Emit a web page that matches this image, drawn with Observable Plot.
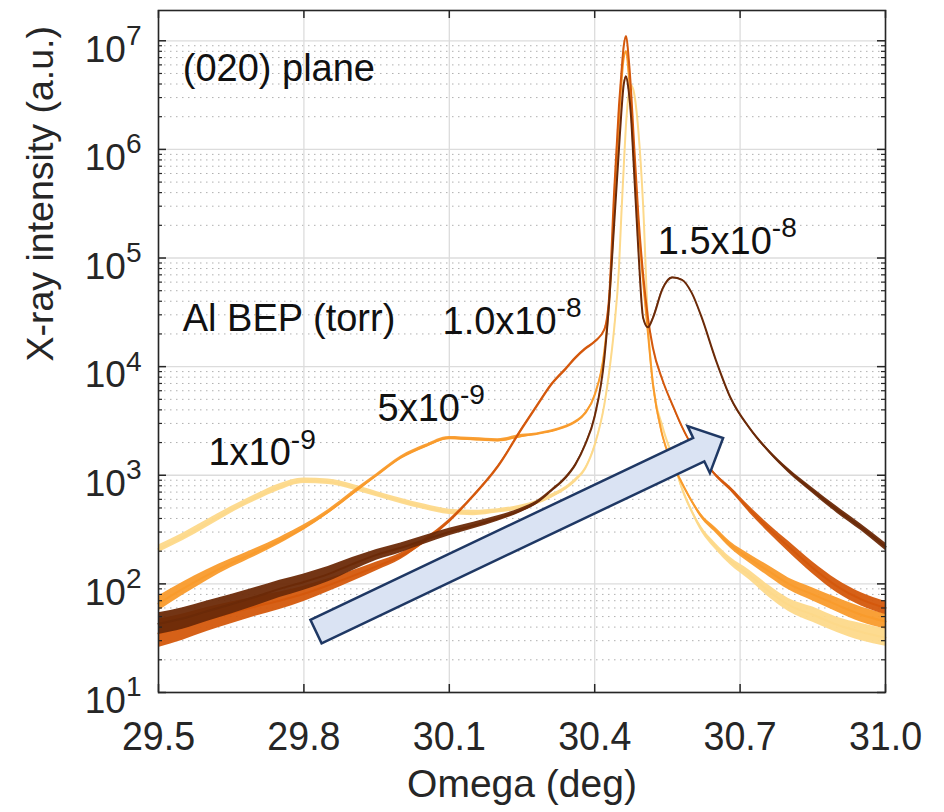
<!DOCTYPE html>
<html>
<head>
<meta charset="utf-8">
<script src="https://cdn.jsdelivr.net/npm/d3@7"></script>
<script src="https://cdn.jsdelivr.net/npm/@observablehq/plot@0.6"></script>
<style>
  body { margin: 0; background: #fff; }
  #chart { width: 944px; height: 812px; }
</style>
</head>
<body>
<div id="chart"></div>
<script>
// ---------------- data ----------------
const omega = [29.50, 29.55, 29.60, 29.65, 29.70, 29.75, 29.80, 29.85, 29.90, 29.95,
  30.00, 30.05, 30.10, 30.15, 30.20, 30.25, 30.28, 30.31, 30.34, 30.36,
  30.38, 30.40, 30.42, 30.43, 30.44, 30.45, 30.455, 30.46, 30.465, 30.47,
  30.475, 30.48, 30.49, 30.50, 30.51, 30.52, 30.54, 30.56, 30.58, 30.60,
  30.62, 30.65, 30.68, 30.72, 30.76, 30.80, 30.85, 30.90, 30.95, 31.00];

const bep1e9 = [210, 270, 360, 480, 620, 780, 890, 870, 780, 670,
  580, 510, 460, 450, 470, 510, 560, 640, 760, 900,
  1150, 1900, 4500, 9000, 22000, 80000, 2.5e5, 7e5, 1.8e6, 3.2e6,
  3.9e6, 3.5e6, 1.5e6, 3e5, 2.5e4, 7000, 2800, 1500, 760, 470,
  320, 220, 162, 120, 85, 64, 52, 42, 36, 32];

const bep5e9 = [66, 90, 120, 155, 195, 250, 330, 460, 680, 1000,
  1450, 1850, 2200, 2150, 2100, 2300, 2400, 2550, 2800, 3100,
  3700, 5500, 14000, 40000, 2.5e5, 1.8e6, 4e6, 7e6, 8e6, 5e6,
  2.5e6, 1e6, 2e5, 6e4, 2e4, 7000, 2300, 1300, 850, 580,
  420, 310, 228, 170, 130, 100, 80, 64, 52, 45];

const bep1e8 = [35, 40, 47, 54, 62, 70, 81, 97, 118, 145,
  180, 250, 380, 650, 1200, 2700, 4300, 6800, 9500, 12000,
  14500, 17000, 22000, 45000, 4e5, 2.5e6, 5e6, 9e6, 1.1e7, 7e6,
  3.5e6, 1.4e6, 2.5e5, 7e4, 2.8e4, 1.5e4, 7500, 4500, 2800, 1900,
  1450, 1000, 750, 480, 320, 220, 140, 95, 72, 60];

const bep15e9 = [43, 48, 56, 65, 76, 90, 104, 123, 152, 185,
  215, 255, 300, 345, 400, 480, 560, 720, 950, 1250,
  1900, 3500, 12000, 40000, 2e5, 1e6, 2.2e6, 4e6, 4.7e6, 3.5e6,
  2e6, 8e5, 1.2e5, 2.8e4, 2.3e4, 2.8e4, 5.2e4, 6.6e4, 6.3e4, 4.8e4,
  2.9e4, 1.15e4, 5200, 2700, 1650, 1100, 720, 480, 330, 220];

// half-width of the noise band around each trace (decades)
const noise1e9 = [0.035, 0.035, 0.035, 0.03, 0.03, 0.03, 0.025, 0.025, 0.025, 0.025,
  0.025, 0.025, 0.025, 0.025, 0.02, 0.02, 0.02, 0.02, 0.015, 0.015,
  0.01, 0.01, 0.005, 0.005, 0.005, 0.005, 0.005, 0.005, 0.005, 0.005,
  0.005, 0.005, 0.005, 0.005, 0.005, 0.01, 0.015, 0.02, 0.02, 0.02,
  0.025, 0.03, 0.035, 0.045, 0.055, 0.06, 0.07, 0.07, 0.08, 0.08];
const noise5e9 = [0.07, 0.06, 0.05, 0.04, 0.035, 0.03, 0.025, 0.02, 0.02, 0.015,
  0.015, 0.015, 0.015, 0.015, 0.015, 0.015, 0.01, 0.01, 0.01, 0.01,
  0.01, 0.005, 0.005, 0.005, 0.005, 0.005, 0.005, 0.005, 0.005, 0.005,
  0.005, 0.005, 0.005, 0.005, 0.005, 0.005, 0.01, 0.01, 0.015, 0.015,
  0.02, 0.025, 0.03, 0.04, 0.05, 0.055, 0.06, 0.065, 0.07, 0.07];
const noise1e8 = [0.13, 0.12, 0.11, 0.10, 0.09, 0.08, 0.07, 0.06, 0.05, 0.04,
  0.03, 0.02, 0.015, 0.01, 0.01, 0.01, 0.01, 0.01, 0.01, 0.01,
  0.01, 0.005, 0.005, 0.005, 0.005, 0.005, 0.005, 0.005, 0.005, 0.005,
  0.005, 0.005, 0.005, 0.005, 0.005, 0.005, 0.005, 0.01, 0.01, 0.01,
  0.01, 0.015, 0.02, 0.03, 0.04, 0.05, 0.055, 0.06, 0.06, 0.06];
const noise15e9 = [0.10, 0.10, 0.095, 0.09, 0.085, 0.08, 0.075, 0.07, 0.06, 0.05,
  0.045, 0.04, 0.035, 0.03, 0.025, 0.02, 0.015, 0.01, 0.01, 0.01,
  0.005, 0.005, 0.005, 0.005, 0.005, 0.005, 0.005, 0.005, 0.005, 0.005,
  0.005, 0.005, 0.005, 0.005, 0.005, 0.005, 0.005, 0.005, 0.005, 0.005,
  0.005, 0.005, 0.01, 0.01, 0.015, 0.02, 0.025, 0.03, 0.03, 0.035];

const seriesNames = ["1x10^-9", "5x10^-9", "1.0x10^-8", "1.5x10^-8"];
const seriesValues = [bep1e9, bep5e9, bep1e8, bep15e9];
const seriesNoise = [noise1e9, noise5e9, noise1e8, noise15e9];
const seriesColors = ["#fdd98a", "#f99b2c", "#d4580c", "#6b2a08"];

const xTicks = [29.5, 29.8, 30.1, 30.4, 30.7, 31.0];
const xTickLabels = ["29.5", "29.8", "30.1", "30.4", "30.7", "31.0"];
const yDecades = [1e1, 1e2, 1e3, 1e4, 1e5, 1e6, 1e7];
const yTickLabels = ["10^1", "10^2", "10^3", "10^4", "10^5", "10^6", "10^7"];
const yMinor = [];
for (const d of yDecades) for (let m = 2; m <= 9; m++) if (d * m < 1.9e7) yMinor.push(d * m);

const annText = ["(020) plane", "Al BEP (torr)", "1x10^-9", "5x10^-9", "1.0x10^-8", "1.5x10^-8"];
const annOmega = [29.55, 29.55, 29.603, 29.952, 30.086, 30.53];
const annIntensity = [4.3e6, 2.15e4, 1230, 3190, 2.0e4, 1.1e5];

const arrowFrom = [29.826, 36];   // tail centre (omega, intensity)
const arrowTo = [30.666, 2180];   // tip (omega, intensity)

const xTitle = "Omega (deg)";
const yTitle = "X-ray intensity (a.u.)";

// ---------------- tables ----------------
const tables = seriesNames.map((s, k) => omega.map((w, i) => ({
  series: s, omega: w, intensity: seriesValues[k][i],
  lo: seriesValues[k][i] / Math.pow(10, seriesNoise[k][i]),
  hi: seriesValues[k][i] * Math.pow(10, seriesNoise[k][i])
})));
const anns = annText.map((t, i) => ({text: t, omega: annOmega[i], intensity: annIntensity[i]}));

// ---------------- layout ----------------
const W = 944, H = 812;
const mL = 158, mR = 59, mT = 10, mB = 120;
const fw = W - mL - mR, fh = H - mT - mB;
const ink = "#262626";

function arrowMark(index, scales) {
  const x0 = scales.x(arrowFrom[0]), y0 = scales.y(arrowFrom[1]);
  const x1 = scales.x(arrowTo[0]), y1 = scales.y(arrowTo[1]);
  const len = Math.hypot(x1 - x0, y1 - y0);
  const ux = (x1 - x0) / len, uy = (y1 - y0) / len;
  const px = -uy, py = ux;
  const shaft = 13, head = 26, headLen = 27;
  const bx = x1 - ux * headLen, by = y1 - uy * headLen;
  const pts = [
    [x0 + px * shaft, y0 + py * shaft],
    [bx + px * shaft, by + py * shaft],
    [bx + px * head, by + py * head],
    [x1, y1],
    [bx - px * head, by - py * head],
    [bx - px * shaft, by - py * shaft],
    [x0 - px * shaft, y0 - py * shaft]
  ];
  const g = document.createElementNS("http://www.w3.org/2000/svg", "polygon");
  g.setAttribute("points", pts.map(p => p.join(",")).join(" "));
  g.setAttribute("fill", "#dae3f3");
  g.setAttribute("stroke", "#1f3864");
  g.setAttribute("stroke-width", "2.5");
  g.setAttribute("stroke-linejoin", "miter");
  return g;
}

const seriesMarks = tables.flatMap(t => [
  Plot.areaY(t, {x: "omega", y1: "lo", y2: "hi", fill: "series", fillOpacity: 0.95, curve: "monotone-x"}),
  Plot.line(t, {x: "omega", y: "intensity", stroke: "series", strokeWidth: 2, curve: "monotone-x"})
]);

const chart = Plot.plot({
  width: W, height: H,
  marginLeft: mL, marginRight: mR, marginTop: mT, marginBottom: mB,
  style: {fontFamily: "'Liberation Sans', Arial, Helvetica, sans-serif", background: "#fff", color: ink, overflow: "visible"},
  x: {domain: [29.5, 31.0]},
  y: {type: "log", domain: [10, 1.9e7]},
  color: {domain: seriesNames, range: seriesColors},
  marks: [
    // grid
    Plot.ruleY(yMinor, {stroke: "#b0b0b0", strokeWidth: 1, strokeDasharray: "1.5,4.5"}),
    Plot.ruleY(yDecades, {stroke: "#dcdcdc", strokeWidth: 1.3}),
    Plot.ruleX(xTicks, {stroke: "#dcdcdc", strokeWidth: 1.3}),
    // curves
    ...seriesMarks,
    // arrow annotation
    arrowMark,
    // inward ticks
    Plot.ruleX(xTicks, {insetTop: fh - 8, stroke: ink, strokeWidth: 1.5}),
    Plot.ruleX(xTicks, {insetBottom: fh - 8, stroke: ink, strokeWidth: 1.5}),
    Plot.ruleY(yDecades, {insetRight: fw - 8, stroke: ink, strokeWidth: 1.5}),
    Plot.ruleY(yDecades, {insetLeft: fw - 8, stroke: ink, strokeWidth: 1.5}),
    Plot.ruleY(yMinor, {insetRight: fw - 4, stroke: ink, strokeWidth: 1.2}),
    Plot.ruleY(yMinor, {insetLeft: fw - 4, stroke: ink, strokeWidth: 1.2}),
    Plot.frame({stroke: ink, strokeWidth: 1.6}),
    // axes labels
    Plot.axisX(xTicks, {anchor: "bottom", tickSize: 0, tickPadding: 29, fontSize: 40, label: null,
      tickFormat: d => xTickLabels[xTicks.indexOf(d)]}),
    Plot.axisY(yDecades, {anchor: "left", tickSize: 0, tickPadding: 17, fontSize: 37, label: null, dy: 9,
      tickFormat: d => yTickLabels[yDecades.indexOf(d)]}),
    Plot.text([xTitle], {frameAnchor: "bottom", dy: 104, lineAnchor: "bottom", fontSize: 39, fill: ink}),
    Plot.text([yTitle], {frameAnchor: "left", dx: -106, dy: 10, rotate: -90, lineAnchor: "bottom", fontSize: 37.5, fill: ink}),
    // annotations
    Plot.text(anns, {x: "omega", y: "intensity", text: "text", textAnchor: "start", lineAnchor: "bottom",
      fontSize: 38, fill: "#111", ariaLabel: "annotation"})
  ]
});

// horizontal stretch of glyphs about their anchor
function stretch(sel, sx) {
  chart.querySelectorAll(sel).forEach(t => {
    const tr = t.getAttribute("transform") || "";
    t.setAttribute("transform", (tr + ` scale(${sx},1)`).trim());
  });
}
stretch('[aria-label="annotation"] text', 1.06);
stretch('[aria-label="x-axis tick label"] text', 0.94);

// superscripts: "a^b" -> a<tspan>b</tspan>
chart.querySelectorAll("text").forEach(t => {
  const s = t.textContent;
  if (t.children.length === 0 && s.includes("^")) {
    const [base, exp] = s.split("^");
    const fs = parseFloat(getComputedStyle(t).fontSize) || 36;
    t.textContent = base;
    const sup = document.createElementNS("http://www.w3.org/2000/svg", "tspan");
    sup.setAttribute("dy", (-0.47 * fs).toFixed(1));
    sup.setAttribute("font-size", (0.78 * fs).toFixed(1));
    sup.textContent = exp;
    t.appendChild(sup);
  }
});

document.getElementById("chart").appendChild(chart);
</script>
</body>
</html>
